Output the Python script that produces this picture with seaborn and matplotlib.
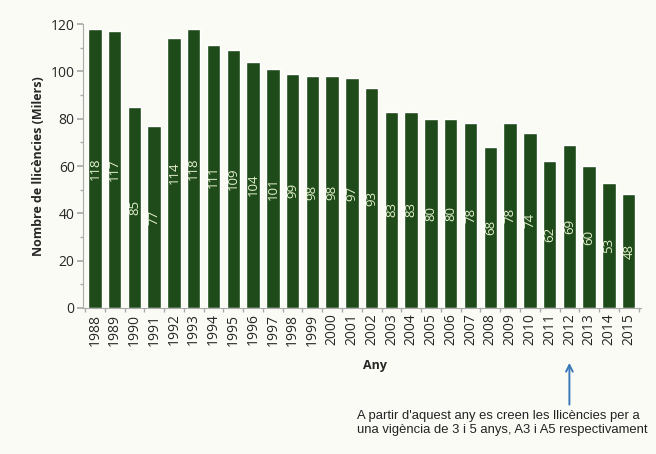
import matplotlib
matplotlib.use("Agg")
import matplotlib.pyplot as plt
import seaborn as sns
import pandas as pd
from matplotlib.ticker import MultipleLocator

anys = [str(a) for a in range(1988, 2016)]
llicencies = [118, 117, 85, 77, 114, 118, 111, 109, 104, 101, 99, 98, 98, 97,
              93, 83, 83, 80, 80, 78, 68, 78, 74, 62, 69, 60, 53, 48]
y_ticks = [0, 20, 40, 60, 80, 100, 120]
nota = ("A partir d'aquest any es creen les llicències per a\n"
        "una vigència de 3 i 5 anys, A3 i A5 respectivament")

df = pd.DataFrame({"Any": anys, "Llicencies": llicencies})

sns.set_theme(style="ticks")
plt.rcParams['font.family'] = ['Open Sans', 'DejaVu Sans']

bg = "#fbfbf6"
fig = plt.figure(figsize=(6.56, 4.54), dpi=100, facecolor=bg)
ax = fig.add_axes([0.1265, 0.3216, 0.85, 0.6255])
ax.set_facecolor(bg)

sns.barplot(data=df, x="Any", y="Llicencies", color="#1f4a19", saturation=1,
            width=0.68, ax=ax)

# etiquetes dins de cada barra
for i, v in enumerate(llicencies):
    ax.text(i, v / 2, str(v), rotation=90, ha="center", va="center",
            color="#e2f0cc", fontsize=9.5)

ax.set_ylim(0, 120)
ax.set_yticks(y_ticks)
ax.yaxis.set_minor_locator(MultipleLocator(10))
ax.set_xlim(-0.6, len(anys) - 0.4)
ax.tick_params(axis="y", labelsize=10, length=4, color="#aaaaaa", pad=2)
ax.tick_params(axis="y", which="minor", length=2, color="#aaaaaa")
ax.tick_params(axis="x", labelsize=10, rotation=90, length=0, pad=4)
# marques petites entre categories
ax.set_xticks([i + 0.5 for i in range(-1, len(anys))], minor=True)
ax.tick_params(axis="x", which="minor", length=3, color="#aaaaaa")

for s in ["top", "right"]:
    ax.spines[s].set_visible(False)
for s in ["left", "bottom"]:
    ax.spines[s].set_color("#aaaaaa")
    ax.spines[s].set_linewidth(0.8)

ax.set_ylabel("Nombre de llicències (Milers)", fontsize=9, fontweight="bold", labelpad=4)
ax.set_xlabel("")
fig.text(375 / 656, 1 - 366 / 454, "Any", fontsize=9, fontweight="bold",
         ha="center", va="center")

# fletxa i nota sobre 2012
ax.annotate("", xy=(anys.index("2012"), -22), xytext=(anys.index("2012"), -42),
            xycoords="data", textcoords="data", annotation_clip=False,
            arrowprops=dict(arrowstyle="->", color="#3a78b8", lw=1.4))
fig.text(357 / 656, 1 - 423 / 454, nota, fontsize=9.4, family=["Liberation Sans"],
         ha="left", va="center", color="#222222", linespacing=1.3)

fig.savefig("out.png", dpi=100, facecolor=bg)
